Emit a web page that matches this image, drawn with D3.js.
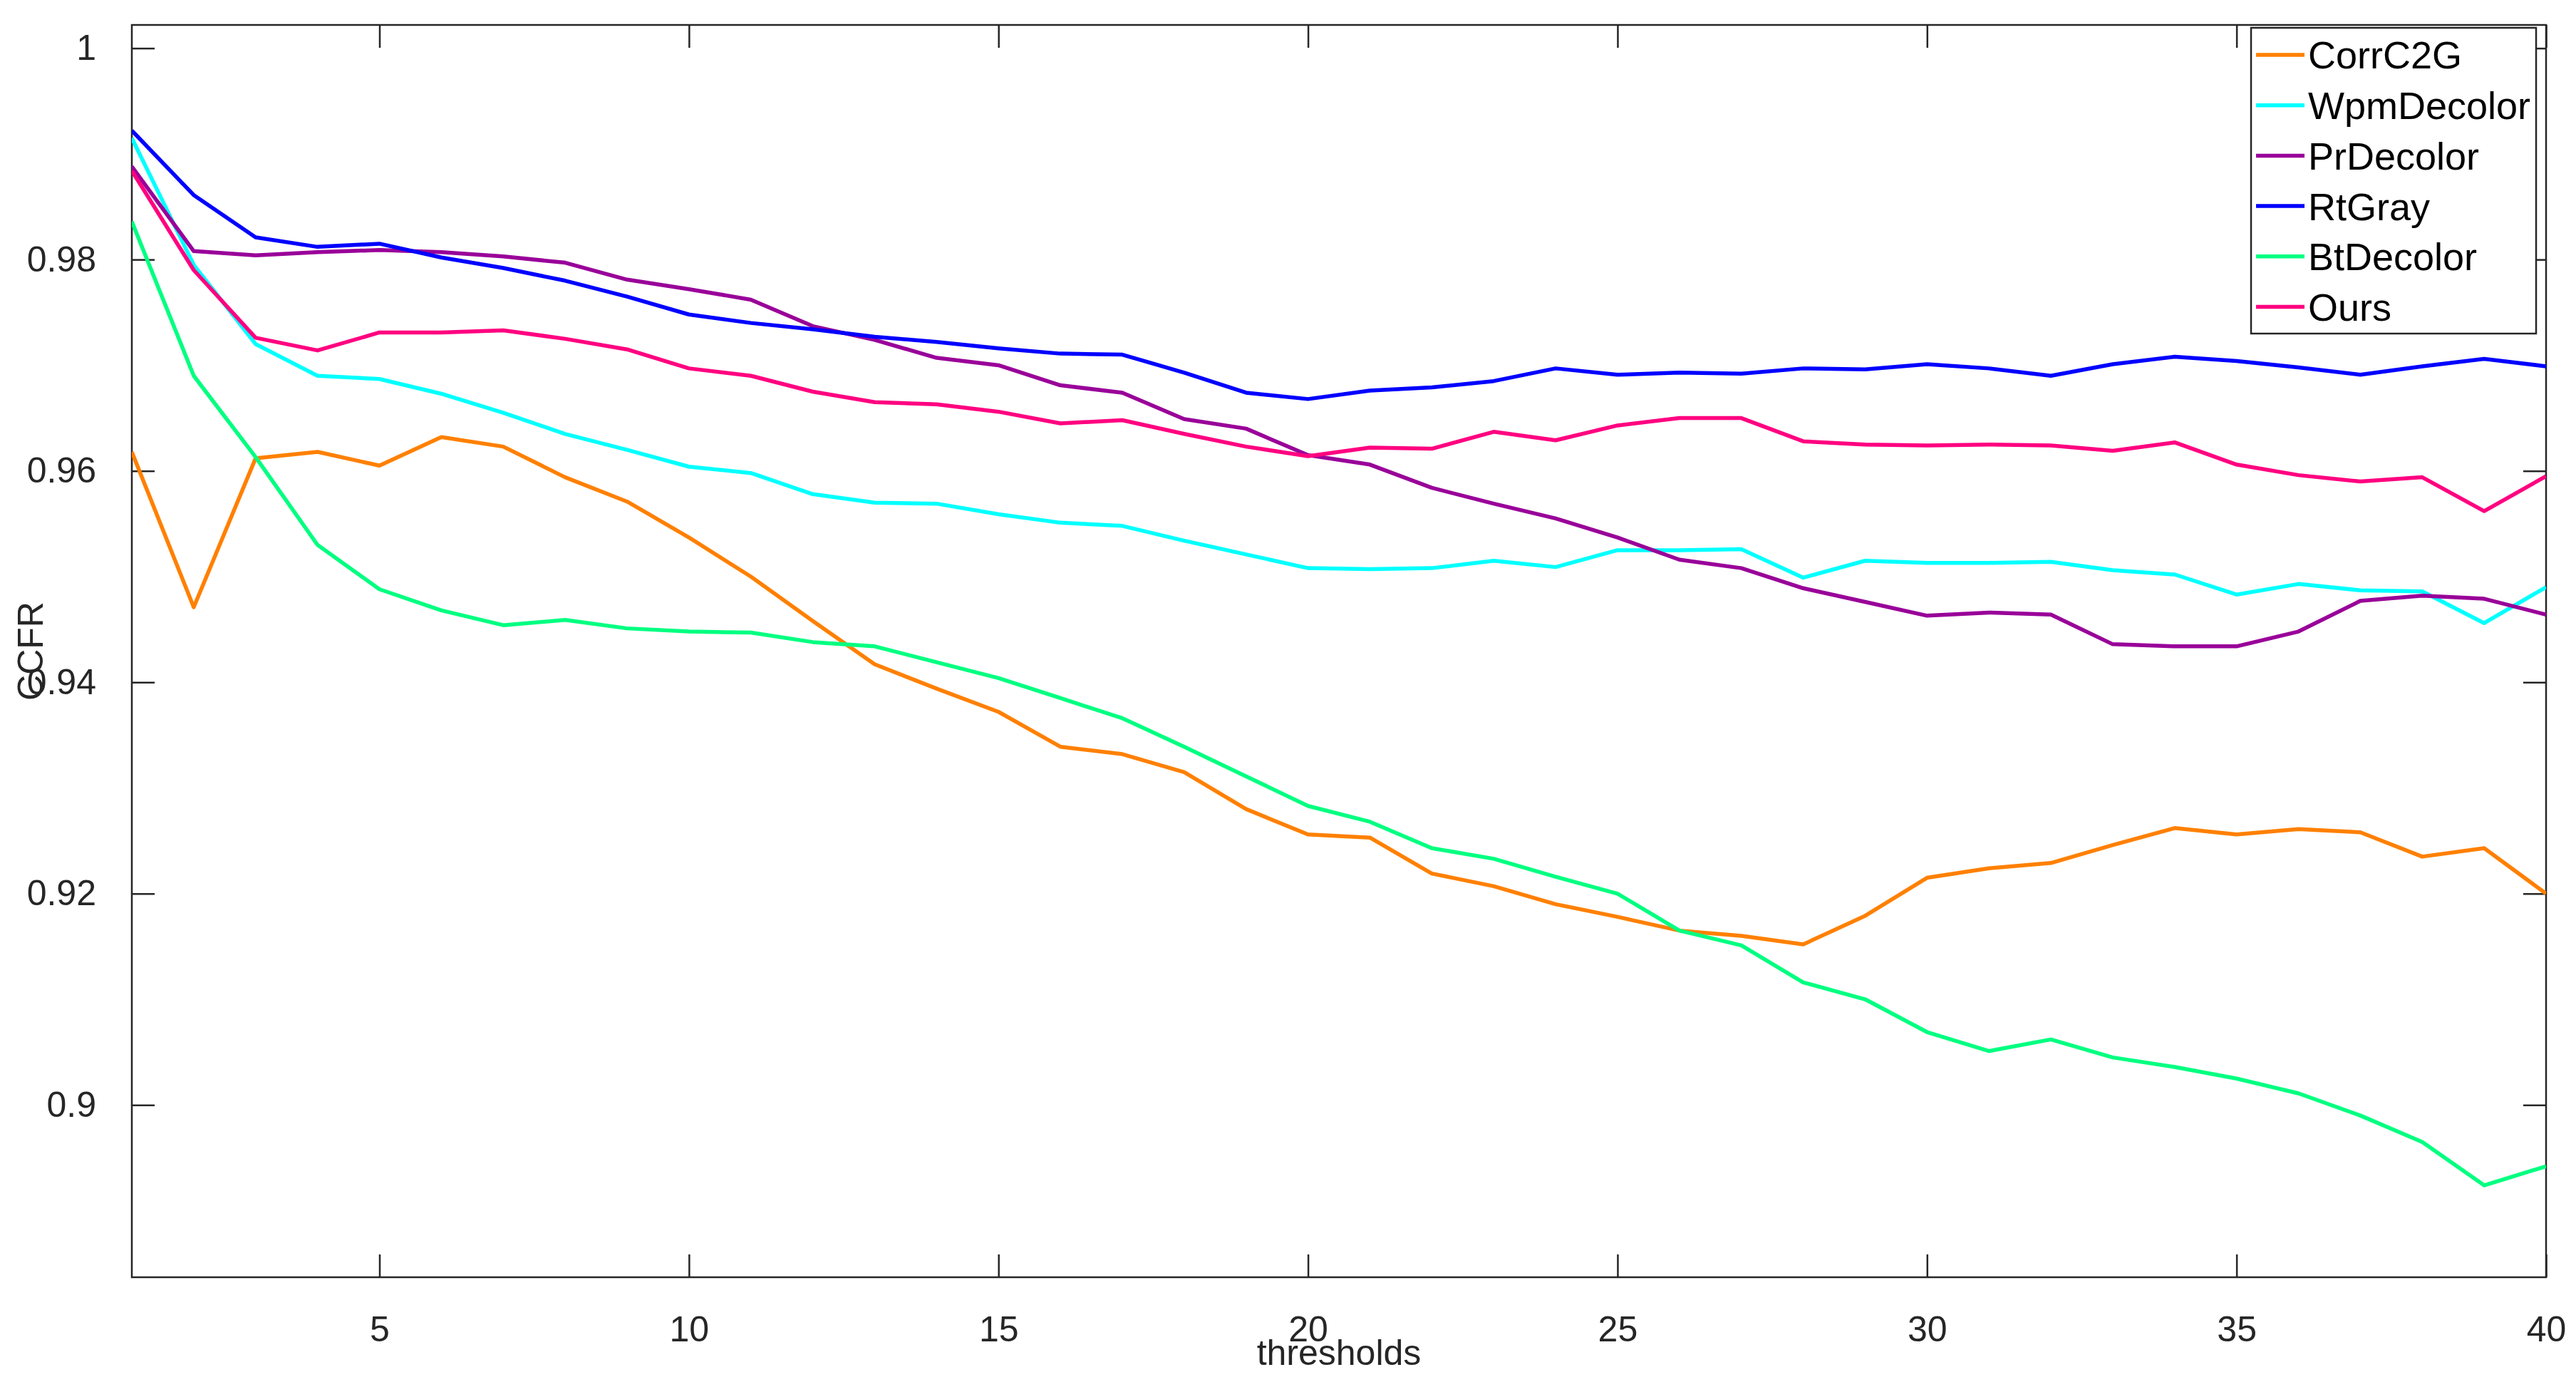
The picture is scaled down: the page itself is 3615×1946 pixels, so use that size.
<!DOCTYPE html>
<html>
<head>
<meta charset="utf-8">
<script src="https://cdn.jsdelivr.net/npm/d3@7"></script>
<style>
  body { margin: 0; background: #fff; }
  text { font-family: "Liberation Sans", Arial, sans-serif; fill: #262626; }
</style>
</head>
<body>
<svg id="chart" width="3615" height="1946"></svg>
<script>
const thresholds = d3.range(1, 41);
const names = ['CorrC2G', 'WpmDecolor', 'PrDecolor', 'RtGray', 'BtDecolor', 'Ours'];
const colors = ['#ff8000', '#00ffff', '#990099', '#0000ff', '#00ff80', '#ff0080'];

const corrC2G = [0.9618,0.9471,0.9612,0.9618,0.9605,0.9632,0.9623,0.9594,0.9571,0.9537,
  0.9500,0.9458,0.9417,0.9394,0.9372,0.9339,0.9332,0.9315,0.9280,0.9256,
  0.9253,0.9219,0.9207,0.9190,0.9178,0.9165,0.9160,0.9152,0.9179,0.9215,
  0.9224,0.9229,0.9246,0.9262,0.9256,0.9261,0.9258,0.9235,0.9243,0.9200];
const wpmDecolor = [0.9915,0.9795,0.9720,0.9690,0.9687,0.9673,0.9655,0.9635,0.9620,0.9604,
  0.9598,0.9578,0.9570,0.9569,0.9559,0.9551,0.9548,0.9534,0.9521,0.9508,
  0.9507,0.9508,0.9515,0.9509,0.9525,0.9525,0.9526,0.9499,0.9515,0.9513,
  0.9513,0.9514,0.9506,0.9502,0.9483,0.9493,0.9487,0.9486,0.9456,0.9490];
const prDecolor = [0.9888,0.9808,0.9804,0.9807,0.9809,0.9807,0.9803,0.9797,0.9781,0.9772,
  0.9762,0.9737,0.9724,0.9707,0.9700,0.9681,0.9674,0.9649,0.9640,0.9615,
  0.9606,0.9584,0.9569,0.9555,0.9537,0.9516,0.9508,0.9489,0.9476,0.9463,
  0.9466,0.9464,0.9436,0.9434,0.9434,0.9448,0.9477,0.9482,0.9479,0.9464];
const rtGray = [0.9922,0.9861,0.9821,0.9812,0.9815,0.9802,0.9792,0.9780,0.9765,0.9748,
  0.9740,0.9734,0.9727,0.9722,0.9716,0.9711,0.9710,0.9693,0.9674,0.9668,
  0.9676,0.9679,0.9685,0.9697,0.9691,0.9693,0.9692,0.9697,0.9696,0.9701,
  0.9697,0.9690,0.9701,0.9708,0.9704,0.9698,0.9691,0.9699,0.9706,0.9699];
const btDecolor = [0.9836,0.9690,0.9613,0.9530,0.9488,0.9468,0.9454,0.9459,0.9451,0.9448,
  0.9447,0.9438,0.9434,0.9419,0.9404,0.9385,0.9366,0.9339,0.9311,0.9283,
  0.9268,0.9243,0.9233,0.9216,0.9200,0.9165,0.9151,0.9116,0.9100,0.9069,
  0.9051,0.9062,0.9045,0.9036,0.9025,0.9011,0.8990,0.8965,0.8924,0.8942];
const ours = [0.9884,0.9790,0.9726,0.9714,0.9731,0.9731,0.9733,0.9725,0.9715,0.9697,
  0.9690,0.9675,0.9665,0.9663,0.9656,0.9645,0.9648,0.9635,0.9623,0.9614,
  0.9622,0.9621,0.9637,0.9629,0.9643,0.9650,0.9650,0.9628,0.9625,0.9624,
  0.9625,0.9624,0.9619,0.9627,0.9606,0.9596,0.9590,0.9594,0.9562,0.9595];
const series = [corrC2G, wpmDecolor, prDecolor, rtGray, btDecolor, ours];

const xTicks = [5, 10, 15, 20, 25, 30, 35, 40];
const yTicks = [0.9, 0.92, 0.94, 0.96, 0.98, 1];

const pLeft = 185, pRight = 3573, pTop = 35, pBottom = 1792;
const svg = d3.select('#chart');

const x = d3.scaleLinear().domain([1, 40]).range([pLeft, pRight]);
const y = d3.scaleLinear().domain([0.8837, 1.0022]).range([pBottom, pTop]);

const tick = 32;
const axisStyle = g => {
  g.select('.domain').remove();
  g.selectAll('line').attr('stroke', '#262626').attr('stroke-width', 2.5);
  g.selectAll('text').attr('font-size', 50).style('fill', '#262626');
};

// bottom / top
svg.append('g').attr('transform', `translate(0,${pBottom})`)
  .call(d3.axisBottom(x).tickValues(xTicks).tickSizeInner(-tick).tickPadding(54).tickFormat(d3.format('d')))
  .call(axisStyle);
svg.append('g').attr('transform', `translate(0,${pTop})`)
  .call(d3.axisTop(x).tickValues(xTicks).tickSizeInner(-tick).tickFormat(''))
  .call(axisStyle);
// left / right
svg.append('g').attr('transform', `translate(${pLeft},0)`)
  .call(d3.axisLeft(y).tickValues(yTicks).tickSizeInner(-tick).tickPadding(50).tickFormat(d => d === 1 ? '1' : String(+d.toFixed(2))))
  .call(axisStyle);
svg.append('g').attr('transform', `translate(${pRight},0)`)
  .call(d3.axisRight(y).tickValues(yTicks).tickSizeInner(-tick).tickFormat(''))
  .call(axisStyle);

svg.append('rect')
  .attr('x', pLeft).attr('y', pTop)
  .attr('width', pRight - pLeft).attr('height', pBottom - pTop)
  .attr('fill', 'none').attr('stroke', '#262626').attr('stroke-width', 2.5);

svg.append('defs').append('clipPath').attr('id', 'clip')
  .append('rect').attr('x', pLeft).attr('y', pTop)
  .attr('width', pRight - pLeft).attr('height', pBottom - pTop);

const line = d3.line().x((d, i) => x(thresholds[i])).y(d => y(d));

svg.append('g').attr('clip-path', 'url(#clip)')
  .selectAll('path')
  .data(series)
  .enter().append('path')
  .attr('d', line)
  .attr('fill', 'none')
  .attr('stroke', (d, i) => colors[i])
  .attr('stroke-width', 5.5)
  .attr('stroke-linejoin', 'round');

// axis titles
svg.append('text')
  .attr('x', (pLeft + pRight) / 2).attr('y', 1915)
  .attr('text-anchor', 'middle').attr('font-size', 50)
  .text('thresholds');
svg.append('text')
  .attr('transform', `translate(60,${(pTop + pBottom) / 2}) rotate(-90)`)
  .attr('text-anchor', 'middle').attr('font-size', 50)
  .text('CCFR');

// legend
const lg = svg.append('g').attr('transform', 'translate(3159,39)');
lg.append('rect').attr('width', 400).attr('height', 429)
  .attr('fill', '#fff').attr('stroke', '#262626').attr('stroke-width', 2.5);
const row = lg.selectAll('.row').data(names).enter().append('g')
  .attr('class', 'row')
  .attr('transform', (d, i) => `translate(0,${38 + i * 70.7})`);
row.append('line').attr('x1', 7).attr('x2', 75)
  .attr('stroke', (d, i) => colors[i]).attr('stroke-width', 5.5);
row.append('text').attr('x', 80).attr('dy', '0.36em')
  .attr('font-size', 54).style('fill', '#000')
  .text(d => d);
</script>
</body>
</html>
